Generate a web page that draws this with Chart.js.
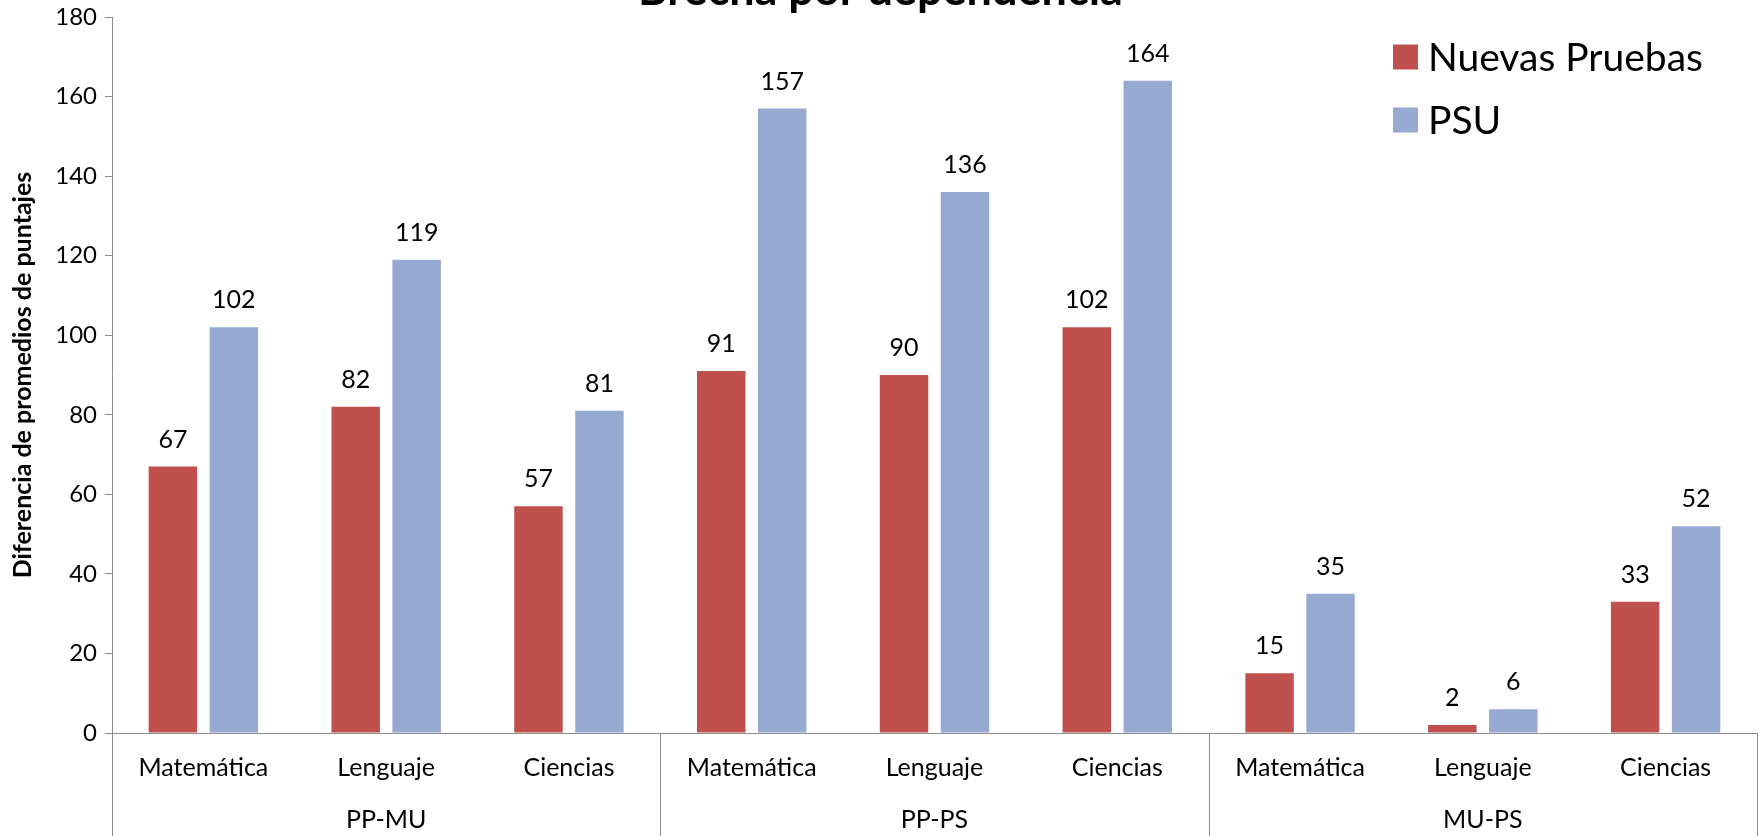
<!DOCTYPE html>
<html>
<head>
<meta charset="utf-8">
<script src="https://cdn.jsdelivr.net/npm/chart.js@4"></script>
<style>
  html, body { margin: 0; padding: 0; background: #fff; }
  #wrap { width: 1761px; height: 836px; position: relative; }
</style>
</head>
<body>
<div id="wrap"><canvas id="myChart"></canvas></div>
<script>
// Datos: brecha por dependencia
const grupos = ['PP-MU', 'PP-PS', 'MU-PS'];
const asignaturas = ['Matemática', 'Lenguaje', 'Ciencias'];
const nuevasPruebas = [67, 82, 57, 91, 90, 102, 15, 2, 33];
const psu = [102, 119, 81, 157, 136, 164, 35, 6, 52];
const ticksY = [0, 20, 40, 60, 80, 100, 120, 140, 160, 180];

const etiquetas = [];
grupos.forEach(() => asignaturas.forEach(a => etiquetas.push(a)));

const FUENTE = 'Lato, "Liberation Sans", sans-serif';
const gris = '#8c8c8c';

// valores sobre las barras, titulo, leyenda y separadores de grupo
const extras = {
  id: 'extras',
  afterDraw(chart) {
    const ctx = chart.ctx;
    const area = chart.chartArea;
    const x = chart.scales.x;
    ctx.save();

    // separadores de grupos bajo el eje
    const ancho = x.getPixelForValue(1) - x.getPixelForValue(0);
    ctx.strokeStyle = gris;
    ctx.lineWidth = 1;
    for (let i = 0; i <= etiquetas.length; i += asignaturas.length) {
      const px = Math.round(x.getPixelForValue(i) - ancho / 2) + 0.5;
      ctx.beginPath();
      ctx.moveTo(px, area.bottom);
      ctx.lineTo(px, chart.height);
      ctx.stroke();
    }

    // valores
    ctx.fillStyle = '#000';
    ctx.font = '25px ' + FUENTE;
    ctx.textAlign = 'center';
    ctx.textBaseline = 'middle';
    chart.data.datasets.forEach((ds, di) => {
      chart.getDatasetMeta(di).data.forEach((bar, i) => {
        ctx.fillText(ds.data[i], bar.x, bar.y - 27);
      });
    });

    // titulo (cortado arriba)
    ctx.font = 'bold 45px ' + FUENTE;
    ctx.textBaseline = 'alphabetic';
    ctx.fillText('Brecha por dependencia', chart.width / 2, 5);

    // leyenda
    ctx.font = '39px ' + FUENTE;
    ctx.textAlign = 'left';
    ctx.textBaseline = 'middle';
    chart.data.datasets.forEach((ds, di) => {
      const cy = 57 + di * 63;
      ctx.fillStyle = ds.backgroundColor;
      ctx.fillRect(1393, cy - 12.5, 25, 25);
      ctx.fillStyle = '#000';
      ctx.fillText(ds.label, 1428, cy + 1);
    });
    ctx.restore();
  }
};

const config = {
  type: 'bar',
  data: {
    labels: etiquetas,
    datasets: [
      { label: 'Nuevas Pruebas', data: nuevasPruebas, backgroundColor: '#C0504D',
        categoryPercentage: 0.667, barPercentage: 0.795 },
      { label: 'PSU', data: psu, backgroundColor: '#95A9D1',
        categoryPercentage: 0.667, barPercentage: 0.795 }
    ]
  },
  options: {
    responsive: true,
    maintainAspectRatio: false,
    animation: false,
    layout: { padding: { top: 17, right: 4, bottom: 7, left: 0 } },
    plugins: {
      legend: { display: false },
      tooltip: { enabled: false }
    },
    scales: {
      y: {
        min: 0,
        max: 180,
        afterFit: s => { s.width = 112; s.paddingTop = 0; s.paddingBottom = 0; },
        afterBuildTicks: s => { s.ticks = ticksY.map(v => ({ value: v })); },
        grid: { drawOnChartArea: false, drawTicks: true, tickLength: 7, color: gris },
        border: { display: true, color: gris, width: 1 },
        ticks: { padding: 8, color: '#000', font: { family: FUENTE, size: 24 } },
        title: {
          display: true,
          text: 'Diferencia de promedios de puntajes',
          color: '#000',
          font: { family: FUENTE, size: 25, weight: 'bold' },
          padding: { top: 8, bottom: 0 }
        }
      },
      x: {
        weight: 0,
        offset: true,
        afterFit: s => { s.height = 48; },
        grid: { display: true, drawOnChartArea: false, drawTicks: false, color: gris },
        border: { display: true, color: gris, width: 1 },
        ticks: { padding: 20, color: '#000', maxRotation: 0, autoSkip: false,
                 font: { family: FUENTE, size: 25 } }
      },
      x2: {
        type: 'category',
        position: 'bottom',
        weight: 1,
        labels: grupos,
        offset: true,
        afterFit: s => { s.height = 48; },
        grid: { display: false },
        border: { display: false },
        ticks: { padding: 16, color: '#000', maxRotation: 0, autoSkip: false,
                 font: { family: FUENTE, size: 25 } }
      }
    }
  },
  plugins: [extras]
};

var myChart = new Chart(document.getElementById('myChart'), config);
</script>
</body>
</html>
